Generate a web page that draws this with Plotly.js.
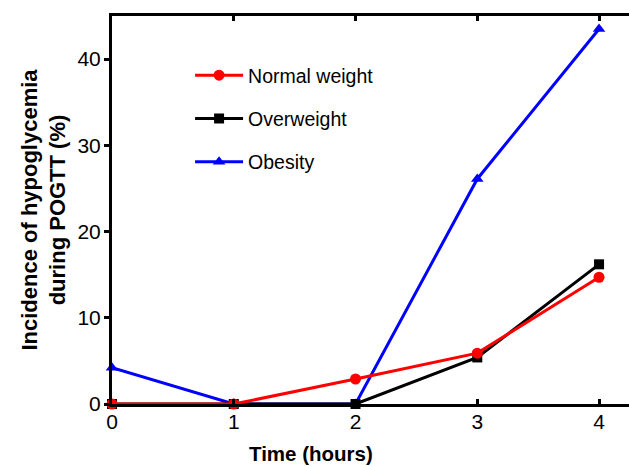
<!DOCTYPE html>
<html>
<head>
<meta charset="utf-8">
<script src="https://cdn.plot.ly/plotly-3.0.1.min.js"></script>
<style>html,body{margin:0;padding:0;background:#fff;}#chart{width:629px;height:466px;}</style>
</head>
<body>
<div id="chart"></div>
<script>
var timeHours = [0, 1, 2, 3, 4];
var normalWeight = [0, 0, 2.9, 5.9, 14.7];
var overweight = [0, 0, 0, 5.4, 16.2];
var obesity = [4.2, 0, 0, 26.1, 43.5];
var seriesNames = ["Normal weight", "Overweight", "Obesity"];
var xTicks = [0, 1, 2, 3, 4];
var yTicks = [0, 10, 20, 30, 40];

var font = "Liberation Sans, Arial, sans-serif";

function tr(name, y, color, symbol, size, rank) {
  return {
    x: timeHours, y: y, name: name, type: "scatter", mode: "lines+markers",
    line: {color: color, width: 3},
    marker: {color: color, symbol: symbol, size: size},
    cliponaxis: false, legendgroup: name, legendrank: rank
  };
}

var data = [
  tr(seriesNames[2], obesity, "#0000ff", "triangle-up", 11, 3),
  tr(seriesNames[1], overweight, "#000000", "square", 10, 2),
  tr(seriesNames[0], normalWeight, "#ff0000", "circle", 11, 1)
];

var layout = {
  width: 629, height: 466,
  margin: {l: 112, r: 0, t: 16, b: 62},
  paper_bgcolor: "#fff", plot_bgcolor: "#fff",
  font: {family: font, color: "#000", size: 20},
  showlegend: true,
  legend: {
    x: 0.151, xanchor: "left", y: 0.897, yanchor: "top",
    bgcolor: "rgba(0,0,0,0)", font: {family: font, size: 19.5, color: "#000"},
    tracegroupgap: 15, itemwidth: 48
  },
  xaxis: {
    range: [0, 4.246], showgrid: false, zeroline: false,
    showline: true, linecolor: "#000", linewidth: 3, mirror: "ticks",
    ticks: "inside", ticklen: 5, tickwidth: 3, tickcolor: "#000",
    tickvals: xTicks, ticktext: xTicks.map(String),
    tickfont: {family: font, size: 21, color: "#000"},
    ticklabelstandoff: -3
  },
  yaxis: {
    range: [0, 45], showgrid: false, zeroline: false,
    showline: true, linecolor: "#000", linewidth: 3, mirror: false,
    ticks: "outside", ticklen: 5, tickwidth: 3, tickcolor: "#000",
    tickvals: yTicks, ticktext: yTicks.map(String),
    tickfont: {family: font, size: 21, color: "#000"},
    ticklabelstandoff: -1,
    title: {text: "<b>Incidence of hypoglycemia<br>during POGTT (%)</b>", font: {family: font, size: 22, color: "#000"}, standoff: 6}
  },
  annotations: [{
    text: "<b>Time (hours)</b>", xref: "paper", yref: "paper",
    x: (311 - 112) / 517, y: (404 - 453) / 388, xanchor: "center", yanchor: "middle",
    showarrow: false, font: {family: font, size: 20.5, color: "#000"}
  }]
};

Plotly.newPlot("chart", data, layout, {displayModeBar: false, staticPlot: true});
</script>
</body>
</html>
